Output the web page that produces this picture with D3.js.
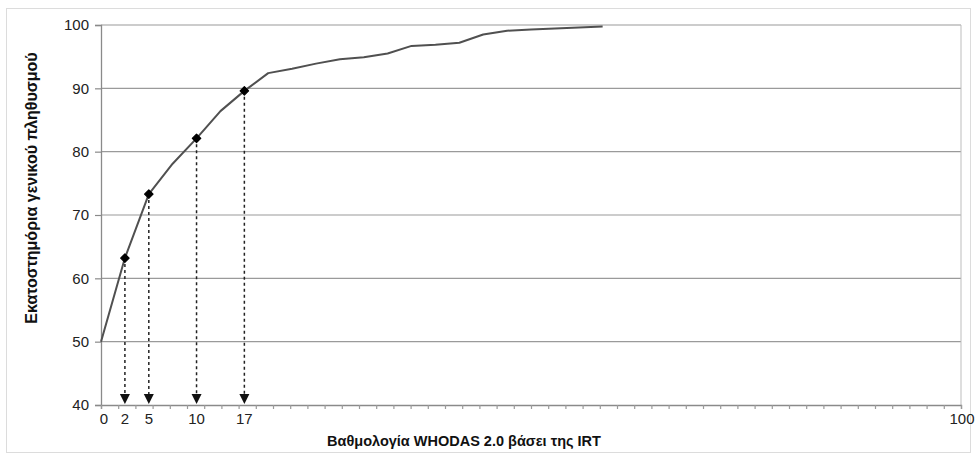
<!DOCTYPE html>
<html><head><meta charset="utf-8">
<script src="https://cdn.jsdelivr.net/npm/d3@7"></script>
<style>body{margin:0;background:#fff}svg{display:block}text{font-family:"Liberation Sans",Arial,sans-serif}</style>
</head><body><div id="chart"></div>
<script>
// Curve points: score (0-100 scale) and population percentile
const scores = [0, 2.78, 5.56, 8.33, 11.11, 13.89, 16.67, 19.44, 22.22, 25, 27.78, 30.56, 33.33, 36.11, 38.89, 41.67, 44.44, 47.22, 50, 52.78, 55.56, 58.33];
const percentiles = [50, 63.2, 73.3, 78.1, 82.1, 86.4, 89.6, 92.4, 93.1, 93.9, 94.6, 94.9, 95.5, 96.7, 96.9, 97.2, 98.5, 99.1, 99.3, 99.45, 99.6, 99.75];
// Highlighted points (index into the curve) and their labels
const markerIdx = [1, 2, 4, 6];
const markerLabels = ["2", "5", "10", "17"];
const yTicks = [40, 50, 60, 70, 80, 90, 100];
const xEndLabels = [0, 100];
const yTitle = "Εκατοστημόρια γενικού πληθυσμού";
const xTitle = "Βαθμολογία WHODAS 2.0 βάσει της IRT";

const W = 976, H = 461;
const m = {left: 101, right: 15, top: 25, bottom: 56};
const svg = d3.select("#chart").append("svg").attr("width", W).attr("height", H);
svg.append("rect").attr("x", 6.5).attr("y", 8.5).attr("width", 964).attr("height", 444)
  .attr("fill", "none").attr("stroke", "#dcdcdc");

const x = d3.scaleLinear().domain([0, 100]).range([m.left, W - m.right]);
const y = d3.scaleLinear().domain([40, 100]).range([H - m.bottom, m.top]);

// gridlines
svg.append("g").selectAll("line").data(yTicks.slice(1)).join("line")
  .attr("x1", x(0)).attr("x2", x(100)).attr("y1", d => y(d)).attr("y2", d => y(d))
  .attr("stroke", "#9a9a9a").attr("stroke-width", 1.2);
// right border
svg.append("line").attr("x1", x(100)).attr("x2", x(100)).attr("y1", y(100)).attr("y2", y(40))
  .attr("stroke", "#bdbdbd").attr("stroke-width", 1);

// y axis
const ya = svg.append("g").attr("transform", `translate(${x(0)},0)`)
  .call(d3.axisLeft(y).tickValues(yTicks).tickSize(6).tickPadding(6));
ya.select(".domain").attr("stroke", "#8a8a8a").attr("stroke-width", 1.3);
ya.selectAll(".tick line").attr("stroke", "#8a8a8a").attr("stroke-width", 1.2);
ya.selectAll(".tick text").attr("font-size", 15).attr("fill", "#222");

// x axis: minor ticks every 2
const xa = svg.append("g").attr("transform", `translate(0,${y(40)})`)
  .call(d3.axisBottom(x).tickValues(d3.range(0, 101, 2)).tickSize(4).tickFormat(""));
xa.select(".domain").attr("stroke", "#8a8a8a").attr("stroke-width", 1.3);
xa.selectAll(".tick line").attr("stroke", "#9a9a9a").attr("stroke-width", 1.2);

// x labels
const xl = svg.append("g").attr("font-size", 15).attr("fill", "#222").attr("text-anchor", "middle");
xl.selectAll("text.e").data(xEndLabels).join("text").attr("class", "e")
  .attr("x", d => x(d) + (d === 0 ? 3 : 1)).attr("y", y(40) + 19).text(d => d);
xl.selectAll("text.m").data(markerIdx).join("text").attr("class", "m")
  .attr("x", d => x(scores[d])).attr("y", y(40) + 19).text((d, i) => markerLabels[i]);

// dashed drop lines + arrows
const dg = svg.append("g");
dg.selectAll("line").data(markerIdx).join("line")
  .attr("x1", d => x(scores[d])).attr("x2", d => x(scores[d]))
  .attr("y1", d => y(percentiles[d])).attr("y2", y(40) - 9)
  .attr("stroke", "#222").attr("stroke-width", 1.5).attr("stroke-dasharray", "3,3");
dg.selectAll("path").data(markerIdx).join("path")
  .attr("d", d => { const cx = x(scores[d]), b = y(40) - 1; return `M${cx - 5},${b - 10}L${cx + 5},${b - 10}L${cx},${b}Z`; })
  .attr("fill", "#111");

// curve
const line = d3.line().x((d, i) => x(scores[i])).y(d => y(d));
svg.append("path").datum(percentiles).attr("d", line)
  .attr("fill", "none").attr("stroke", "#505050").attr("stroke-width", 2).attr("stroke-linejoin", "round");

// markers
svg.append("g").selectAll("path").data(markerIdx).join("path")
  .attr("transform", d => `translate(${x(scores[d])},${y(percentiles[d])}) rotate(45)`)
  .attr("d", d3.symbol().type(d3.symbolSquare).size(36)).attr("fill", "#000")
  .attr("stroke", "#000").attr("stroke-width", 1.2).attr("stroke-linejoin", "round");

// titles
svg.append("text").attr("transform", `translate(37,${(y(100) + y(40)) / 2 - 27}) rotate(-90)`)
  .attr("text-anchor", "middle").attr("font-size", 16).attr("font-weight", "bold").attr("fill", "#111").text(yTitle);
svg.append("text").attr("x", 464).attr("y", 446).attr("text-anchor", "middle")
  .attr("font-size", 14.5).attr("font-weight", "bold").attr("fill", "#111").text(xTitle);
</script></body></html>
